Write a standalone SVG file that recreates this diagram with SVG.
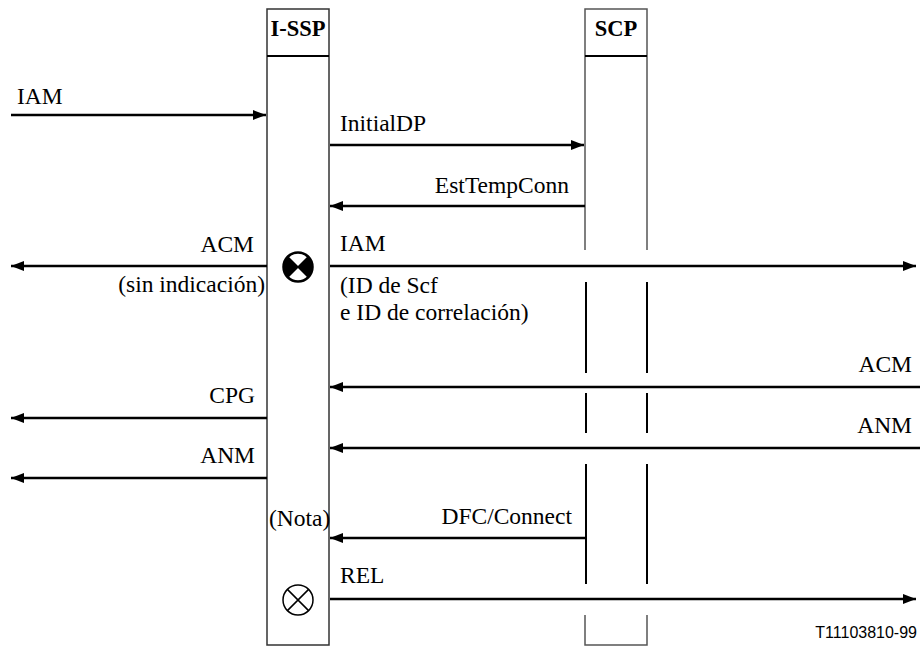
<svg xmlns="http://www.w3.org/2000/svg" width="920" height="646" viewBox="0 0 920 646">
<defs>
<style>
.t{font-family:"Liberation Serif","Times New Roman",serif;font-size:23.5px;fill:#000}
.b{font-weight:bold;font-size:22.5px}
.box{fill:none;stroke:#333;stroke-width:1.5}
.sc{stroke:#000;stroke-width:2;fill:none}
.scg{stroke:#555;stroke-width:1.5;fill:none}
.msg{stroke:#000;stroke-width:2.5;fill:none}
</style>
<marker id="ah" viewBox="0 0 13 10" refX="13" refY="5" markerWidth="13" markerHeight="10" markerUnits="userSpaceOnUse" orient="auto">
<path d="M0,0 L13,5 L0,10 z" fill="#000"/>
</marker>
</defs>
<rect width="920" height="646" fill="#fff"/>
<g id="issp">
<rect class="box" x="267" y="9" width="62" height="636"/>
<line x1="267" y1="56" x2="329" y2="56" stroke="#000" stroke-width="2"/>
<text class="t b" x="298" y="36" text-anchor="middle">I-SSP</text>
</g>
<g id="scp">
<path class="scg" d="M585,250 V9 H647 V250"/>
<line x1="585" y1="56" x2="647" y2="56" stroke="#000" stroke-width="2"/>
<text class="t b" x="616" y="36" text-anchor="middle">SCP</text>
<path class="sc" d="M586,282 V373 M647,282 V373 M586,393 V433 M647,393 V433 M586,464 V584 M647,464 V584"/>
<path class="scg" d="M585,615 V645 H647 V615"/>
</g>
<g id="sym1">
<circle cx="298" cy="267" r="14.5" fill="#fff" stroke="#000" stroke-width="2.5"/>
<path d="M287.75,256.75 L298,267 L287.75,277.25 A14.5,14.5 0 0 1 287.75,256.75 z M308.25,256.75 L298,267 L308.25,277.25 A14.5,14.5 0 0 0 308.25,256.75 z" fill="#000"/>
<path d="M287.75,256.75 L308.25,277.25 M308.25,256.75 L287.75,277.25" stroke="#000" stroke-width="1.5"/>
</g>
<g id="sym2">
<circle cx="298" cy="600" r="15" fill="#fff" stroke="#000" stroke-width="1.5"/>
<path d="M287.4,589.4 L308.6,610.6 M308.6,589.4 L287.4,610.6" stroke="#000" stroke-width="1.5"/>
</g>
<g id="connectors">
<line class="msg" x1="11" y1="115" x2="266" y2="115" marker-end="url(#ah)"/>
<line class="msg" x1="330" y1="145" x2="584" y2="145" marker-end="url(#ah)"/>
<line class="msg" x1="585" y1="206" x2="330" y2="206" marker-end="url(#ah)"/>
<line class="msg" x1="267" y1="266" x2="11" y2="266" marker-end="url(#ah)"/>
<line class="msg" x1="330" y1="266" x2="916" y2="266" marker-end="url(#ah)"/>
<line class="msg" x1="920" y1="387" x2="330" y2="387" marker-end="url(#ah)"/>
<line class="msg" x1="267" y1="418" x2="11" y2="418" marker-end="url(#ah)"/>
<line class="msg" x1="920" y1="448" x2="330" y2="448" marker-end="url(#ah)"/>
<line class="msg" x1="267" y1="478" x2="11" y2="478" marker-end="url(#ah)"/>
<line class="msg" x1="587" y1="538" x2="330" y2="538" marker-end="url(#ah)"/>
<line class="msg" x1="330" y1="599" x2="916" y2="599" marker-end="url(#ah)"/>
</g>
<g id="labels">
<text class="t" x="17" y="104">IAM</text>
<text class="t" x="340" y="131">InitialDP</text>
<text class="t" x="569" y="193" text-anchor="end">EstTempConn</text>
<text class="t" x="254" y="252" text-anchor="end">ACM</text>
<text class="t" x="265" y="292" text-anchor="end">(sin indicación)</text>
<text class="t" x="340" y="251">IAM</text>
<text class="t" x="340" y="293">(ID de Scf</text>
<text class="t" x="340" y="320">e ID de correlación)</text>
<text class="t" x="912" y="372" text-anchor="end">ACM</text>
<text class="t" x="255" y="403" text-anchor="end">CPG</text>
<text class="t" x="912" y="433" text-anchor="end">ANM</text>
<text class="t" x="255" y="463" text-anchor="end">ANM</text>
<text class="t" x="269" y="526">(Nota)</text>
<text class="t" x="572" y="524" text-anchor="end">DFC/Connect</text>
<text class="t" x="340" y="583">REL</text>
<text x="917" y="638" text-anchor="end" font-family="Liberation Sans, Arial, sans-serif" font-size="16" fill="#000">T11103810-99</text>
</g>
</svg>
